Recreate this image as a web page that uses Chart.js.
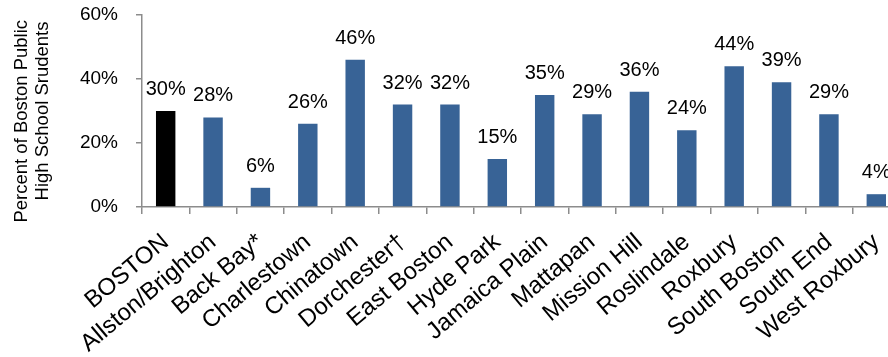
<!DOCTYPE html>
<html>
<head>
<meta charset="utf-8">
<script src="https://cdn.jsdelivr.net/npm/chart.js@4.4.1/dist/chart.umd.min.js"></script>
<style>
  html, body { margin: 0; padding: 0; background: #fff; overflow: hidden; }
  #wrap { width: 910px; height: 357px; }
</style>
</head>
<body>
<div id="wrap"><canvas id="chart"></canvas></div>
<script>
// neighborhoods along the x axis
const neighborhoods = [
  'BOSTON', 'Allston/Brighton', 'Back Bay*', 'Charlestown', 'Chinatown',
  'Dorchester\u2020', 'East Boston', 'Hyde Park', 'Jamaica Plain', 'Mattapan',
  'Mission Hill', 'Roslindale', 'Roxbury', 'South Boston', 'South End', 'West Roxbury'
];
// percent of public high school students
const percents = [30, 28, 6, 26, 46, 32, 32, 15, 35, 29, 36, 24, 44, 39, 29, 4];
const yTicks = [0, 20, 40, 60];

const BLUE = '#386396';
const AXIS = '#8c8c8c';
const FONT = "'Liberation Sans', Arial, sans-serif";

const barColors = neighborhoods.map((n, i) => (i === 0 ? '#000000' : BLUE));

// value labels above each bar
const valueLabels = {
  id: 'valueLabels',
  afterDatasetsDraw(chart) {
    const ctx = chart.ctx;
    const meta = chart.getDatasetMeta(0);
    ctx.save();
    ctx.font = '20px ' + FONT;
    ctx.fillStyle = '#000';
    ctx.textAlign = 'center';
    ctx.textBaseline = 'alphabetic';
    meta.data.forEach((bar, i) => {
      ctx.fillText(percents[i] + '%', bar.x, bar.y - 16);
    });
    ctx.restore();
  }
};

new Chart(document.getElementById('chart'), {
  type: 'bar',
  data: {
    labels: neighborhoods,
    datasets: [{
      data: percents,
      backgroundColor: barColors,
      borderWidth: 0,
      categoryPercentage: 1,
      barPercentage: 0.41
    }]
  },
  options: {
    responsive: true,
    maintainAspectRatio: false,
    animation: false,
    layout: { autoPadding: false, padding: { top: 15, right: 10, left: 0, bottom: 0 } },
    plugins: { legend: { display: false }, tooltip: { enabled: false } },
    scales: {
      x: {
        grid: { display: true, drawOnChartArea: false, drawTicks: true, tickLength: 7, color: AXIS, lineWidth: 1.5, offset: true },
        border: { display: true, color: AXIS, width: 1.5 },
        ticks: {
          autoSkip: false, minRotation: 40, maxRotation: 40,
          color: '#000', font: { family: FONT, size: 24 }, padding: 14
        },
        afterFit(scale) { scale.height = 150; }
      },
      y: {
        min: 0,
        max: 60,
        afterBuildTicks(scale) { scale.ticks = yTicks.map(v => ({ value: v })); },
        grid: { display: true, drawOnChartArea: false, drawTicks: true, tickLength: 6, color: AXIS, lineWidth: 1.5 },
        border: { display: true, color: AXIS, width: 1.5 },
        ticks: {
          color: '#000', font: { family: FONT, size: 19 }, padding: 18,
          callback: v => v + '%'
        },
        title: {
          display: true,
          text: ['Percent of Boston Public    ', 'High School Srudents'],
          color: '#000',
          font: { family: FONT, size: 18.5, lineHeight: 1.15 },
          padding: { top: 11, bottom: 0 }
        },
        afterFit(scale) {
          scale.width = 142;
          // tick padding would otherwise push the plot top down
          scale.paddingTop = 0;
          scale.paddingBottom = 0;
        }
      }
    }
  },
  plugins: [valueLabels]
});
</script>
</body>
</html>
